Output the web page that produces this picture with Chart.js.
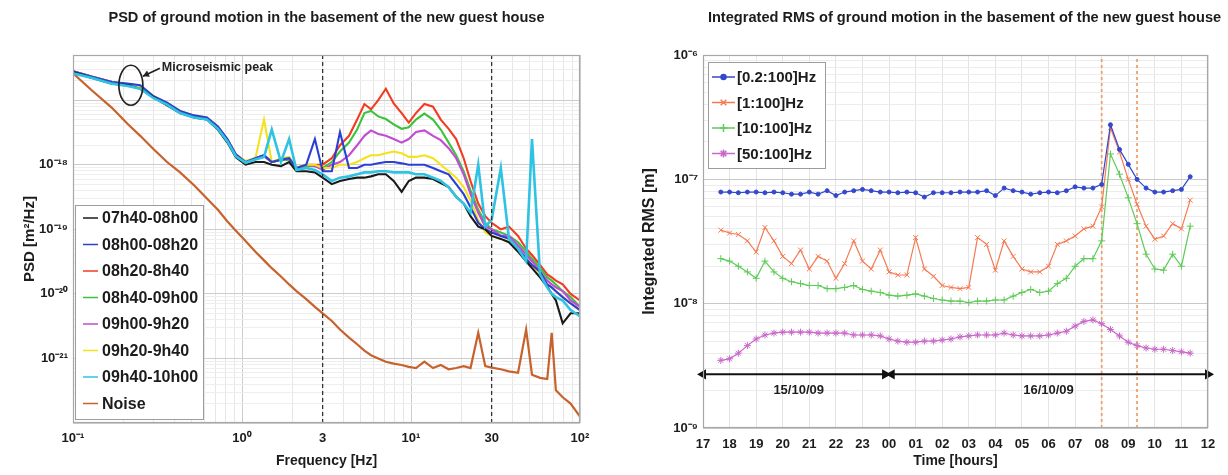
<!DOCTYPE html>
<html>
<head>
<meta charset="utf-8">
<script src="https://cdn.jsdelivr.net/npm/chart.js@4.4.1/dist/chart.umd.min.js"></script>
<style>
  html, body { margin: 0; padding: 0; background: #fff; }
  #wrap { position: relative; width: 1228px; height: 475px; overflow: hidden; }
  #wrap canvas { position: absolute; top: 0; }
  #psdChart { left: 0; }
  #rmsChart { left: 615px; }
</style>
</head>
<body>
<div id="wrap">
  <canvas id="psdChart" width="615" height="475"></canvas>
  <canvas id="rmsChart" width="613" height="475"></canvas>
</div>
<script>
/* ground motion, basement of the new guest house
   left: PSD per 20 min slot, right: integrated RMS over the night */

// ---- left panel data (Hz, m^2/Hz)
const freqs = [0.1, 0.13, 0.17, 0.21, 0.25, 0.3, 0.36, 0.43, 0.52, 0.62, 0.72, 0.82, 0.92, 1.05, 1.2, 1.35, 1.5, 1.7, 1.9, 2.1,
  2.4, 2.7, 3.0, 3.4, 3.8, 4.3, 4.8, 5.3, 5.8, 6.4, 7.1, 7.9, 8.8, 9.7, 10.7, 12, 13.5, 15, 16.7, 18.5,
  20.5, 22.5, 25, 27.5, 30, 34, 38, 43, 48, 52, 58, 64, 68, 72, 79, 88, 100];
const psd0740 = [2.7e-17, 2.2e-17, 1.8e-17, 1.7e-17, 1.5e-17, 1.1e-17, 8.3e-18, 6.3e-18, 5.4e-18, 5.0e-18,
  3.5e-18, 2.2e-18, 1.3e-18, 1.0e-18, 1.1e-18, 1.1e-18, 1.0e-18, 9.5e-19, 1.1e-18, 7.9e-19,
  7.9e-19, 7.6e-19, 6.3e-19, 5.0e-19, 5.6e-19, 6.0e-19, 6.3e-19, 6.3e-19, 6.6e-19, 7.1e-19,
  7.1e-19, 5.6e-19, 3.8e-19, 5.6e-19, 6.3e-19, 6.3e-19, 6.0e-19, 5.2e-19, 4.5e-19, 3.2e-19,
  2.5e-19, 1.6e-19, 1.1e-19, 1.0e-19, 7.9e-20, 7.1e-20, 6.3e-20, 4.5e-20, 3.2e-20, 2.5e-20,
  1.8e-20, 1.3e-20, 1.0e-20, 7.9e-21, 3.5e-21, 5.0e-21, 5.0e-21];
const psd0800 = [2.8e-17, 2.3e-17, 1.9e-17, 1.8e-17, 1.7e-17, 1.15e-17, 9.1e-18, 6.8e-18, 5.8e-18, 5.4e-18,
  3.9e-18, 2.5e-18, 1.45e-18, 1.1e-18, 1.26e-18, 1.4e-18, 1.1e-18, 1.2e-18, 1.26e-18, 8.9e-19,
  1.0e-18, 2.5e-18, 7.9e-19, 7.9e-19, 3.2e-18, 8.9e-19, 8.9e-19, 1.0e-18, 1.0e-18, 1.05e-18,
  1.1e-18, 1.1e-18, 1.05e-18, 1.0e-18, 1.0e-18, 1.0e-18, 8.9e-19, 7.9e-19, 7.1e-19, 5.0e-19,
  3.5e-19, 2.2e-19, 1.26e-19, 1.0e-19, 8.9e-20, 7.9e-20, 7.1e-20, 5.0e-20, 3.5e-20, 2.8e-20,
  2.2e-20, 1.4e-20, 1.26e-20, 1.1e-20, 8.9e-21, 7.1e-21, 5.6e-21];
const psd0820 = [2.8e-17, 2.3e-17, 1.9e-17, 1.74e-17, 1.58e-17, 1.12e-17, 8.9e-18, 6.6e-18, 5.6e-18, 5.2e-18,
  3.8e-18, 2.4e-18, 1.4e-18, 1.1e-18, 1.26e-18, 1.4e-18, 1.1e-18, 1.2e-18, 1.26e-18, 8.9e-19,
  1.0e-18, 1.0e-18, 1.0e-18, 1.26e-18, 2.0e-18, 2.8e-18, 5.0e-18, 8.7e-18, 7.2e-18, 1.0e-17,
  1.5e-17, 8.9e-18, 6.3e-18, 4.5e-18, 6.3e-18, 8.7e-18, 7.9e-18, 5.0e-18, 3.6e-18, 2.5e-18,
  1.26e-18, 5.6e-19, 2.5e-19, 1.6e-19, 1.26e-19, 1.0e-19, 1.1e-19, 7.9e-20, 5.0e-20, 4.0e-20,
  2.8e-20, 2.0e-20, 1.8e-20, 1.6e-20, 1.4e-20, 1.0e-20, 7.9e-21];
const psd0840 = [2.7e-17, 2.2e-17, 1.9e-17, 1.7e-17, 1.55e-17, 1.1e-17, 8.7e-18, 6.5e-18, 5.5e-18, 5.1e-18,
  3.7e-18, 2.3e-18, 1.38e-18, 1.1e-18, 1.23e-18, 1.35e-18, 1.1e-18, 1.17e-18, 1.2e-18, 8.7e-19,
  9.5e-19, 9.5e-19, 8.9e-19, 1.1e-18, 1.6e-18, 2.2e-18, 3.5e-18, 6.3e-18, 6.8e-18, 5.6e-18,
  5.1e-18, 4.2e-18, 3.6e-18, 3.8e-18, 5.0e-18, 6.2e-18, 5.0e-18, 3.5e-18, 2.2e-18, 1.4e-18,
  7.9e-19, 4.0e-19, 2.0e-19, 1.26e-19, 1.0e-19, 8.9e-20, 7.9e-20, 6.3e-20, 4.5e-20, 3.5e-20,
  2.5e-20, 1.8e-20, 1.6e-20, 1.4e-20, 1.1e-20, 8.9e-21, 6.3e-21];
const psd0900 = [2.8e-17, 2.3e-17, 1.9e-17, 1.7e-17, 1.58e-17, 1.12e-17, 8.9e-18, 6.6e-18, 5.6e-18, 5.2e-18,
  3.8e-18, 2.4e-18, 1.4e-18, 1.1e-18, 1.26e-18, 1.38e-18, 1.1e-18, 1.2e-18, 1.26e-18, 8.9e-19,
  1.0e-18, 9.5e-19, 8.3e-19, 1.0e-18, 1.1e-18, 1.4e-18, 2.0e-18, 2.8e-18, 3.4e-18, 3.0e-18,
  2.8e-18, 2.5e-18, 2.2e-18, 2.5e-18, 3.2e-18, 3.4e-18, 2.8e-18, 2.4e-18, 1.8e-18, 1.26e-18,
  7.1e-19, 3.5e-19, 1.8e-19, 1.1e-19, 1.0e-19, 7.9e-20, 7.9e-20, 5.6e-20, 4.0e-20, 3.2e-20,
  2.2e-20, 1.6e-20, 1.4e-20, 1.26e-20, 1.1e-20, 7.9e-21, 6.3e-21];
const psd0920 = [2.8e-17, 2.3e-17, 1.9e-17, 1.74e-17, 1.6e-17, 1.15e-17, 9.1e-18, 6.8e-18, 5.8e-18, 5.4e-18,
  3.9e-18, 2.45e-18, 1.45e-18, 1.15e-18, 1.26e-18, 5.0e-18, 1.1e-18, 1.26e-18, 1.32e-18, 9.1e-19,
  1.0e-18, 1.0e-18, 8.9e-19, 8.9e-19, 1.0e-18, 1.0e-18, 1.1e-18, 1.26e-18, 1.4e-18, 1.4e-18,
  1.5e-18, 1.6e-18, 1.5e-18, 1.32e-18, 1.32e-18, 1.4e-18, 1.26e-18, 1.0e-18, 7.9e-19, 6.3e-19,
  4.5e-19, 2.8e-19, 1.4e-19, 8.9e-20, 7.9e-20, 7.1e-20, 6.3e-20, 5.0e-20, 3.5e-20, 2.8e-20,
  2.0e-20, 1.4e-20, 1.26e-20, 1.1e-20, 8.9e-21, 7.1e-21, 5.6e-21];
const psd0940 = [2.6e-17, 2.2e-17, 1.8e-17, 1.66e-17, 1.5e-17, 1.07e-17, 8.5e-18, 6.3e-18, 5.4e-18, 5.0e-18,
  3.6e-18, 2.3e-18, 1.35e-18, 1.07e-18, 1.2e-18, 1.32e-18, 3.5e-18, 1.1e-18, 2.5e-18, 8.3e-19,
  8.9e-19, 8.3e-19, 7.1e-19, 5.6e-19, 6.3e-19, 6.6e-19, 7.1e-19, 7.6e-19, 7.6e-19, 7.9e-19,
  7.9e-19, 7.6e-19, 7.6e-19, 7.6e-19, 7.1e-19, 7.1e-19, 6.3e-19, 5.6e-19, 4.5e-19, 3.2e-19,
  2.5e-19, 1.8e-19, 1.0e-18, 1.1e-19, 1.4e-19, 8.9e-19, 7.1e-20, 5.0e-20, 3.2e-20, 2.5e-18,
  2.0e-20, 1.26e-20, 1.0e-20, 8.9e-21, 7.9e-21, 5.6e-21, 4.5e-21];
const psdNoise = [2.6e-17, 1.4e-17, 7.6e-18, 4.3e-18, 2.8e-18, 1.74e-18, 1.1e-18, 7.6e-19, 4.8e-19, 3.0e-19,
  2.0e-19, 1.32e-19, 9.5e-20, 6.6e-20, 4.5e-20, 3.3e-20, 2.5e-20, 1.86e-20, 1.4e-20, 1.1e-20,
  8.3e-21, 6.3e-21, 5.0e-21, 3.8e-21, 2.8e-21, 2.1e-21, 1.66e-21, 1.32e-21, 1.12e-21, 1.0e-21,
  8.9e-22, 8.3e-22, 7.9e-22, 7.4e-22, 7.1e-22, 8.9e-22, 7.1e-22, 7.9e-22, 6.8e-22, 7.1e-22,
  7.6e-22, 7.1e-22, 2.5e-21, 7.6e-22, 7.2e-22, 6.8e-22, 6.3e-22, 6.0e-22, 2.8e-21, 5.6e-22,
  5.0e-22, 4.8e-22, 2.5e-21, 3.2e-22, 2.5e-22, 2.0e-22, 1.26e-22];
const psdLabels = ['07h40-08h00', '08h00-08h20', '08h20-8h40', '08h40-09h00', '09h00-9h20', '09h20-9h40', '09h40-10h00', 'Noise'];
const freqRange = [0.1, 100];
const psdRange = [1e-22, 5.0e-17];
const freqMarkers = [3, 30];
const freqTickLabels = [0.1, 1, 3, 10, 30, 100];
const psdTickLabels = [1e-18, 1e-19, 1e-20, 1e-21];
const microseismic = { freq: 0.22, psd: 1.7e-17, text: 'Microseismic peak' };

// ---- right panel data (hours from 15/10 00h, m)
const hours = [17.67, 18.00, 18.33, 18.67, 19.00, 19.33, 19.67, 20.00, 20.33, 20.67,
  21.00, 21.33, 21.67, 22.00, 22.33, 22.67, 23.00, 23.33, 23.67, 24.00,
  24.33, 24.67, 25.00, 25.33, 25.67, 26.00, 26.33, 26.67, 27.00, 27.33,
  27.67, 28.00, 28.33, 28.67, 29.00, 29.33, 29.67, 30.00, 30.33, 30.67,
  31.00, 31.33, 31.67, 32.00, 32.33, 32.67, 33.00, 33.33, 33.67, 34.00,
  34.33, 34.67, 35.00, 35.33];
const rms02 = [7.9e-8, 7.9e-8, 7.8e-8, 7.9e-8, 7.9e-8, 7.8e-8, 7.9e-8, 7.8e-8, 7.6e-8, 7.6e-8,
  7.9e-8, 7.6e-8, 8.1e-8, 7.4e-8, 7.9e-8, 8.1e-8, 8.3e-8, 8.1e-8, 7.9e-8, 7.9e-8,
  7.8e-8, 7.9e-8, 7.8e-8, 7.2e-8, 7.8e-8, 7.8e-8, 7.8e-8, 7.9e-8, 7.9e-8, 7.9e-8,
  8.1e-8, 7.4e-8, 8.5e-8, 8.1e-8, 7.9e-8, 7.6e-8, 7.8e-8, 7.9e-8, 7.8e-8, 8.1e-8,
  8.7e-8, 8.5e-8, 8.5e-8, 9.1e-8, 2.75e-7, 1.74e-7, 1.32e-7, 1.0e-7, 8.5e-8, 7.9e-8,
  7.9e-8, 8.1e-8, 8.3e-8, 1.05e-7];
const rms1 = [3.9e-8, 3.7e-8, 3.6e-8, 3.2e-8, 2.6e-8, 4.1e-8, 3.2e-8, 2.4e-8, 2.1e-8, 2.7e-8,
  1.9e-8, 2.4e-8, 2.2e-8, 1.6e-8, 2.1e-8, 3.2e-8, 2.2e-8, 1.9e-8, 2.7e-8, 1.8e-8,
  1.7e-8, 1.7e-8, 3.4e-8, 1.9e-8, 1.66e-8, 1.4e-8, 1.35e-8, 1.32e-8, 1.35e-8, 3.4e-8,
  3.0e-8, 1.86e-8, 3.2e-8, 2.4e-8, 1.9e-8, 1.8e-8, 1.8e-8, 2.0e-8, 3.0e-8, 3.2e-8,
  3.5e-8, 4.0e-8, 4.2e-8, 6.0e-8, 2.6e-7, 1.66e-7, 1.0e-7, 6.3e-8, 4.2e-8, 3.3e-8,
  3.5e-8, 4.4e-8, 4.0e-8, 6.8e-8];
const rms10 = [2.3e-8, 2.2e-8, 2.0e-8, 1.8e-8, 1.6e-8, 2.2e-8, 1.8e-8, 1.6e-8, 1.5e-8, 1.45e-8,
  1.4e-8, 1.4e-8, 1.32e-8, 1.32e-8, 1.35e-8, 1.4e-8, 1.3e-8, 1.26e-8, 1.23e-8, 1.17e-8,
  1.15e-8, 1.17e-8, 1.2e-8, 1.15e-8, 1.1e-8, 1.07e-8, 1.05e-8, 1.05e-8, 1.02e-8, 1.05e-8,
  1.05e-8, 1.07e-8, 1.07e-8, 1.15e-8, 1.23e-8, 1.3e-8, 1.23e-8, 1.26e-8, 1.45e-8, 1.6e-8,
  2.0e-8, 2.3e-8, 2.3e-8, 3.2e-8, 1.6e-7, 1.1e-7, 7.1e-8, 4.4e-8, 2.5e-8, 1.9e-8,
  1.86e-8, 2.5e-8, 2.0e-8, 4.2e-8];
const rms50 = [3.5e-9, 3.6e-9, 4.0e-9, 4.6e-9, 5.2e-9, 5.6e-9, 5.8e-9, 5.9e-9, 5.9e-9, 5.9e-9,
  5.9e-9, 5.8e-9, 5.8e-9, 5.8e-9, 5.8e-9, 5.6e-9, 5.6e-9, 5.6e-9, 5.5e-9, 5.2e-9,
  5.0e-9, 4.9e-9, 4.9e-9, 5.0e-9, 5.0e-9, 5.1e-9, 5.2e-9, 5.4e-9, 5.5e-9, 5.6e-9,
  5.6e-9, 5.6e-9, 5.8e-9, 5.6e-9, 5.5e-9, 5.5e-9, 5.5e-9, 5.6e-9, 5.8e-9, 6.0e-9,
  6.6e-9, 7.2e-9, 7.4e-9, 6.9e-9, 6.2e-9, 5.5e-9, 4.9e-9, 4.6e-9, 4.4e-9, 4.3e-9,
  4.3e-9, 4.2e-9, 4.1e-9, 4.0e-9];
const rmsLabels = ['[0.2:100]Hz', '[1:100]Hz', '[10:100]Hz', '[50:100]Hz'];
const hourRange = [17, 36];
const rmsRange = [1e-9, 1e-6];
const rmsTickLabels = [1e-6, 1e-7, 1e-8, 1e-9];
const eventHours = [32, 33.33];
const dayStarts = [17, 24.1];
const dayEnds = [23.85, 36];
const dayNames = ['15/10/09', '16/10/09'];
const dayNameHours = [20.6, 30];
const dayArrowLevel = 2.7e-9;
const dayNameLevel = 2.0e-9;

// ---- helpers
const FONT = '"Liberation Sans", Arial, Helvetica, sans-serif';
const SUP = { '-': '\u207B', '0': '\u2070', '1': '\u00B9', '2': '\u00B2', '3': '\u00B3', '4': '\u2074',
  '5': '\u2075', '6': '\u2076', '7': '\u2077', '8': '\u2078', '9': '\u2079' };
function pow10Label(v) {
  const e = Math.round(Math.log10(v));
  return '10' + String(e).split('').map(c => SUP[c]).join('');
}
function logTicks(lo, hi) {
  const out = [];
  for (let e = Math.floor(Math.log10(lo)); e <= Math.ceil(Math.log10(hi)); e++) {
    for (let m = 1; m <= 9; m++) {
      const v = Number((m * Math.pow(10, e)).toPrecision(6));
      if (v >= lo * 0.999 && v <= hi * 1.001) out.push({ value: v, major: m === 1 });
    }
  }
  return out;
}
function isDecade(v) { return Math.abs(Math.log10(v) - Math.round(Math.log10(v))) < 1e-6; }

Chart.defaults.font.family = FONT;
Chart.defaults.color = '#1c1c1c';

// frame + title
const frame = {
  id: 'frame',
  afterDraw(chart, args, o) {
    const { ctx, chartArea: a } = chart;
    ctx.save();
    ctx.strokeStyle = '#a8a8a8';
    ctx.lineWidth = 1.2;
    ctx.strokeRect(a.left + 0.5, a.top + 0.5, a.right - a.left - 1, a.bottom - a.top - 1);
    ctx.fillStyle = '#1c1c1c';
    ctx.font = 'bold 14.6px ' + FONT;
    ctx.textAlign = 'center';
    ctx.textBaseline = 'middle';
    ctx.fillText(o.title, (a.left + a.right) / 2 + (o.shift || 0), o.titleY);
    ctx.restore();
  }
};

// boxed legend inside the plot
const boxLegend = {
  id: 'boxLegend',
  afterDraw(chart, args, o) {
    const { ctx, chartArea: a } = chart;
    const items = chart.data.datasets.filter(d => d.inLegend);
    const left = a.left + o.dx, top = o.top;
    const w = o.width, h = o.height;
    ctx.save();
    ctx.fillStyle = '#fff';
    ctx.fillRect(left, top, w, h);
    ctx.strokeStyle = '#9c9c9c';
    ctx.lineWidth = 1;
    ctx.strokeRect(left + 0.5, top + 0.5, w, h);
    ctx.font = 'bold ' + o.fontSize + 'px ' + FONT;
    ctx.textBaseline = 'middle';
    ctx.textAlign = 'left';
    items.forEach((d, i) => {
      const y = top + o.firstRow + i * o.rowH;
      ctx.strokeStyle = d.borderColor;
      ctx.lineWidth = 1.5;
      ctx.beginPath();
      ctx.moveTo(left + o.lineX0, y);
      ctx.lineTo(left + o.lineX1, y);
      ctx.stroke();
      if (d.pointRadius > 0) {
        ctx.fillStyle = d.borderColor;
        Chart.helpers.drawPoint(ctx, { pointStyle: d.pointStyle, radius: d.pointRadius + 0.5, rotation: 0, borderWidth: 1.2 },
          left + (o.lineX0 + o.lineX1) / 2, y);
      }
      ctx.fillStyle = '#1c1c1c';
      ctx.fillText(d.label, left + o.textX, y + 1);
    });
    ctx.restore();
  }
};

// ---- left: PSD
const psdSeries = [psd0740, psd0800, psd0820, psd0840, psd0900, psd0920, psd0940, psdNoise];
const psdColors = ['#1a1a1a', '#2b3fd6', '#f23b20', '#3cc23c', '#c24ad4', '#f3e31c', '#2ec3e2', '#c8622c'];
const psdOrder = [2, 3, 7, 6, 5, 4, 1, 8];

const peakNote = {
  id: 'peakNote',
  afterDatasetsDraw(chart) {
    const { ctx, scales: { x, y } } = chart;
    const cx = x.getPixelForValue(microseismic.freq);
    const cy = y.getPixelForValue(microseismic.psd);
    ctx.save();
    ctx.strokeStyle = '#222';
    ctx.lineWidth = 1.7;
    ctx.beginPath();
    ctx.ellipse(cx, cy, 12, 20, 0, 0, Math.PI * 2);
    ctx.stroke();
    const x1 = cx + 29, y1 = cy - 17, x2 = cx + 12, y2 = cy - 9;
    ctx.beginPath();
    ctx.moveTo(x1, y1);
    ctx.lineTo(x2, y2);
    ctx.stroke();
    const ang = Math.atan2(y2 - y1, x2 - x1);
    ctx.beginPath();
    ctx.moveTo(x2, y2);
    ctx.lineTo(x2 - 7 * Math.cos(ang - 0.5), y2 - 7 * Math.sin(ang - 0.5));
    ctx.lineTo(x2 - 7 * Math.cos(ang + 0.5), y2 - 7 * Math.sin(ang + 0.5));
    ctx.closePath();
    ctx.fillStyle = '#222';
    ctx.fill();
    ctx.font = 'bold 12.5px ' + FONT;
    ctx.textBaseline = 'middle';
    ctx.fillText(microseismic.text, x1 + 2, y1 - 1);
    ctx.restore();
  }
};

const psdDatasets = psdSeries.map((vals, i) => ({
  label: psdLabels[i],
  data: freqs.map((f, k) => ({ x: f, y: vals[k] })),
  borderColor: psdColors[i],
  borderWidth: i === 7 ? 2.2 : (i === 6 ? 2.6 : 2.1),
  pointRadius: 0,
  order: psdOrder[i],
  inLegend: true
}));
freqMarkers.forEach(f => psdDatasets.push({
  data: [{ x: f, y: psdRange[0] }, { x: f, y: psdRange[1] }],
  borderColor: '#333',
  borderDash: [4, 3],
  borderWidth: 1.3,
  pointRadius: 0,
  order: 0
}));

new Chart(document.getElementById('psdChart'), {
  type: 'line',
  data: { datasets: psdDatasets },
  options: {
    responsive: false,
    animation: false,
    events: [],
    layout: { padding: { left: 18, right: 35, top: 55, bottom: 2 } },
    scales: {
      x: {
        type: 'logarithmic',
        min: freqRange[0], max: freqRange[1],
        afterBuildTicks: s => { s.ticks = logTicks(freqRange[0], freqRange[1]); },
        afterFit: s => { s.height = 50; },
        ticks: {
          autoSkip: false, maxRotation: 0, padding: 8,
          font: { size: 13, weight: 'bold' },
          callback: v => freqTickLabels.includes(v) ? (v === 3 || v === 30 ? String(v) : pow10Label(v)) : ''
        },
        grid: { drawTicks: false, color: c => c.tick && isDecade(c.tick.value) ? '#cdcdcd' : '#e6e6e6' },
        border: { display: false },
        title: { display: true, text: 'Frequency [Hz]', font: { size: 14, weight: 'bold' }, padding: { top: 0, bottom: 3 } }
      },
      y: {
        type: 'logarithmic',
        min: psdRange[0], max: psdRange[1],
        afterBuildTicks: s => { s.ticks = logTicks(psdRange[0], psdRange[1]); },
        afterFit: s => { s.width = 55; },
        ticks: {
          autoSkip: false, padding: 5,
          font: { size: 13, weight: 'bold' },
          callback: v => psdTickLabels.includes(v) ? pow10Label(v) : ''
        },
        grid: { drawTicks: false, color: c => c.tick && isDecade(c.tick.value) ? '#cdcdcd' : '#eeeeee' },
        border: { display: false },
        title: { display: true, text: 'PSD [m\u00B2/Hz]', font: { size: 15, weight: 'bold' }, padding: { top: 3, bottom: 0 } }
      }
    },
    plugins: {
      legend: { display: false },
      tooltip: { enabled: false },
      frame: { title: 'PSD of ground motion in the basement of the new guest house', titleY: 18 },
      boxLegend: { dx: 2, top: 205, width: 128, height: 214, firstRow: 13, rowH: 26.5, lineX0: 8, lineX1: 23, textX: 27, fontSize: 16 }
    }
  },
  plugins: [frame, peakNote, boxLegend]
});

// ---- right: integrated RMS
const rmsSeries = [rms02, rms1, rms10, rms50];
const rmsColors = ['#3348cc', '#f57a52', '#5fcb58', '#c868c8'];
const rmsMarks = ['circle', 'crossRot', 'cross', 'star'];
const rmsRadius = [2, 3.5, 3.5, 3.5];

const dayNotes = {
  id: 'dayNotes',
  afterDatasetsDraw(chart) {
    const { ctx, scales: { x, y } } = chart;
    ctx.save();
    ctx.font = 'bold 13px ' + FONT;
    ctx.fillStyle = '#1c1c1c';
    ctx.textAlign = 'center';
    ctx.textBaseline = 'middle';
    dayNames.forEach((t, i) => ctx.fillText(t, x.getPixelForValue(dayNameHours[i]), y.getPixelForValue(dayNameLevel)));
    ctx.restore();
  }
};

const rmsDatasets = rmsSeries.map((vals, i) => ({
  label: rmsLabels[i],
  data: hours.map((h, k) => ({ x: h, y: vals[k] })),
  borderColor: rmsColors[i],
  backgroundColor: rmsColors[i],
  borderWidth: 1.2,
  pointStyle: rmsMarks[i],
  pointRadius: rmsRadius[i],
  pointBorderWidth: 1,
  order: i + 1,
  inLegend: true
}));
eventHours.forEach(h => rmsDatasets.push({
  data: [{ x: h, y: rmsRange[0] }, { x: h, y: rmsRange[1] }],
  borderColor: '#f0a06c',
  borderDash: [3, 3],
  borderWidth: 1.8,
  pointRadius: 0,
  order: 6
}));
dayStarts.forEach((s, i) => rmsDatasets.push({
  data: [{ x: s, y: dayArrowLevel }, { x: dayEnds[i], y: dayArrowLevel }],
  borderColor: '#111',
  backgroundColor: '#111',
  borderWidth: 2,
  pointStyle: 'triangle',
  pointRotation: [-90, 90],
  pointRadius: 4,
  clip: false,
  order: 0
}));

new Chart(document.getElementById('rmsChart'), {
  type: 'line',
  data: { datasets: rmsDatasets },
  options: {
    responsive: false,
    animation: false,
    events: [],
    layout: { padding: { left: 22, right: 20, top: 55, bottom: 2 } },
    scales: {
      x: {
        type: 'linear',
        min: hourRange[0], max: hourRange[1],
        afterFit: s => { s.height = 45; },
        ticks: {
          stepSize: 1, autoSkip: false, maxRotation: 0, padding: 9,
          font: { size: 13, weight: 'bold' },
          callback: v => String(v % 24).padStart(2, '0')
        },
        grid: { drawTicks: false, color: '#e4e4e4' },
        border: { display: false },
        title: { display: true, text: 'Time [hours]', font: { size: 14, weight: 'bold' }, padding: { top: 0, bottom: 3 } }
      },
      y: {
        type: 'logarithmic',
        min: rmsRange[0], max: rmsRange[1],
        afterBuildTicks: s => { s.ticks = logTicks(rmsRange[0], rmsRange[1]); },
        afterFit: s => { s.width = 66; },
        ticks: {
          autoSkip: false, padding: 5,
          font: { size: 13, weight: 'bold' },
          callback: v => rmsTickLabels.includes(v) ? pow10Label(v) : ''
        },
        grid: { drawTicks: false, color: c => c.tick && isDecade(c.tick.value) ? '#c9c9c9' : '#ececec' },
        border: { display: false },
        title: { display: true, text: 'Integrated RMS [m]', font: { size: 16, weight: 'bold' }, padding: { top: 3, bottom: 0 } }
      }
    },
    plugins: {
      legend: { display: false },
      tooltip: { enabled: false },
      frame: { title: 'Integrated RMS of ground motion in the basement of the new guest house', titleY: 18, shift: 9 },
      boxLegend: { dx: 5, top: 62, width: 117, height: 106, firstRow: 15, rowH: 25.5, lineX0: 4, lineX1: 27, textX: 29, fontSize: 15 }
    }
  },
  plugins: [frame, dayNotes, boxLegend]
});
</script>
</body>
</html>
